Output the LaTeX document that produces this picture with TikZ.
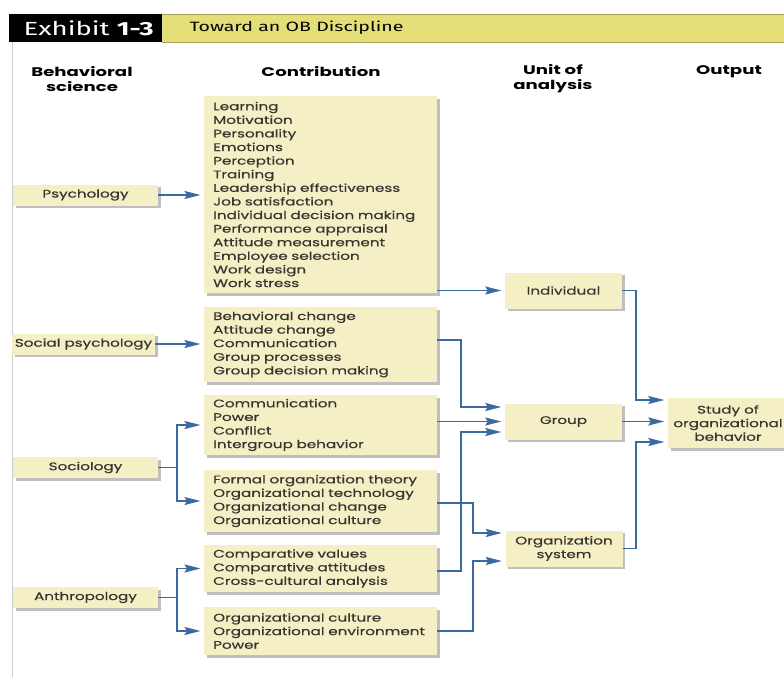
\documentclass[tikz,border=0pt]{standalone}
\usepackage{fontspec}
\usetikzlibrary{arrows.meta,shadows,calc}
\newfontfamily\bodyfont[FakeStretch=1.38,FakeBold=0.5]{Poppins}
\newfontfamily\headfont[FakeStretch=1.45]{Poppins}
\newfontfamily\exhfont[FakeStretch=1.45]{Fira Sans}
\definecolor{boxfill}{HTML}{F5EFC6}
\definecolor{hdryellow}{HTML}{E4DE78}
\definecolor{hdrline}{HTML}{A8A25A}
\definecolor{lineblue}{HTML}{3A6AA0}
\definecolor{txtgray}{HTML}{36342F}
\tikzset{
  boxshadow/.style={drop shadow={shadow xshift=2.5pt,shadow yshift=-2.5pt,fill=black,opacity=0.25}},
  lbox/.style={rectangle,fill=boxfill,boxshadow,minimum width=145pt,minimum height=21pt,
    inner sep=0pt,text=txtgray,font=\bodyfont\fontsize{11}{12}\selectfont},
  cbox/.style={rectangle,fill=boxfill,boxshadow,anchor=west,text width=215pt,inner xsep=9pt,
    inner ysep=0pt,align=left,text=txtgray,font=\bodyfont\fontsize{11}{13.6}\selectfont},
  ubox/.style={rectangle,fill=boxfill,boxshadow,minimum width=117pt,minimum height=36pt,
    inner sep=0pt,align=center,text=txtgray,font=\bodyfont\fontsize{11}{13.6}\selectfont},
  colhead/.style={align=center,text=black,font=\headfont\bfseries\fontsize{12.5}{15}\selectfont},
  ln/.style={draw=lineblue,line width=1.7pt},
  arr/.style={ln,-{Stealth[length=16pt,width=8pt,inset=2.5pt]},shorten >=3.5pt},
}
\begin{document}
\begin{tikzpicture}[x=1pt,y=-1pt]
\useasboundingbox (0,0) rectangle (784,677);
\fill[white] (0,0) rectangle (784,677);

% title bar
\fill[black] (9,14) rectangle (162,42);
\fill[hdryellow] (162,14) rectangle (784,42);
\draw[hdrline,line width=0.8pt] (162,14) -- (784,14) (162,42) -- (784,42);
\node[anchor=west,text=white,font=\exhfont\fontsize{19}{20}\selectfont] (exh) at (20,28) {Exhibit \textbf{1-3}};
\node[anchor=west,text=black,font=\exhfont\fontsize{13.5}{14}\selectfont] (ttl) at (186,28) {Toward an OB Discipline};
\draw[black!20,line width=1pt] (12,42) -- (12,677);

% column headings
\node[colhead] (h1) at (82,79) {Behavioral\\science};
\node[colhead] (h2) at (321,72) {Contribution};
\node[colhead] (h3) at (553,79) {Unit of\\analysis};
\node[colhead] (h4) at (729,72) {Output};

% behavioral sciences
\node[lbox] (psy) at (85.5,195) {Psychology};
\node[lbox,minimum width=143pt] (socpsy) at (83.5,344) {Social psychology};
\node[lbox] (soc) at (85.5,467.5) {Sociology};
\node[lbox] (anth) at (85.5,597.5) {Anthropology};

% contributions
\node[cbox,minimum height=197pt] (psyc) at (204,194.5) {Learning\\Motivation\\Personality\\Emotions\\Perception\\Training\\Leadership effectiveness\\Job satisfaction\\Individual decision making\\Performance appraisal\\Attitude measurement\\Employee selection\\Work design\\Work stress};
\node[cbox,minimum height=75pt] (spc) at (204,344.5) {Behavioral change\\Attitude change\\Communication\\Group processes\\Group decision making};
\node[cbox,minimum height=60pt] (scA) at (204,425) {Communication\\Power\\Conflict\\Intergroup behavior};
\node[cbox,minimum height=62pt] (scB) at (204,501) {Formal organization theory\\Organizational technology\\Organizational change\\Organizational culture};
\node[cbox,minimum height=47pt] (acA) at (204,568.5) {Comparative values\\Comparative attitudes\\Cross-cultural analysis};
\node[cbox,minimum height=48pt] (acB) at (204,631) {Organizational culture\\Organizational environment\\Power};

% units of analysis
\node[ubox] (ind) at (563.5,290.5) {Individual};
\node[ubox] (grp) at (563.5,421.5) {Group};
\node[ubox] (org) at (564,548.5) {Organization\\system};

% output
\node[ubox,minimum width=120pt,minimum height=50pt] (study) at (728,423) {Study of\\organizational\\behavior};

% junction columns
\coordinate (fork) at (177,0);
\coordinate (busA) at (461,0);
\coordinate (busB) at (473,0);
\coordinate (busC) at (636,0);

% sciences to contributions
\draw[arr] (psy.east) -- (psy.east -| psyc.west);
\draw[arr] (socpsy.east) -- (socpsy.east -| spc.west);
\draw[ln] (soc.east) -- (soc.east -| fork);
\draw[arr] (soc.east -| fork) |- (scA.west);
\draw[arr] (soc.east -| fork) |- (scB.west);
\draw[ln] (anth.east) -- (anth.east -| fork);
\draw[arr] (anth.east -| fork) |- (acA.west);
\draw[arr] (anth.east -| fork) |- (acB.west);

% contributions to units
\draw[arr] (psyc.east |- ind.west) -- (ind.west);
\draw[arr] ([yshift=4.5pt]spc.east) -| ([yshift=14.5pt]grp.west -| busA) -- ([yshift=14.5pt]grp.west);
\draw[arr] (scA.east |- grp.west) -- (grp.west);
\draw[arr] ([yshift=-2.5pt]acA.east) -| ([yshift=-10.5pt]grp.west -| busA) -- ([yshift=-10.5pt]grp.west);
\draw[arr] ([yshift=-2pt]scB.east) -| ([yshift=15.5pt]org.west -| busB) -- ([yshift=15.5pt]org.west);
\draw[arr] (acB.east) -| ([yshift=-12.5pt]org.west -| busB) -- ([yshift=-12.5pt]org.west);

% units to output
\draw[arr] (ind.east) -| ([yshift=23pt]study.west -| busC) -- ([yshift=23pt]study.west);
\draw[arr] (grp.east) -- (grp.east -| study.west);
\draw[arr] (org.east) -| ([yshift=-19pt]study.west -| busC) -- ([yshift=-19pt]study.west);
\end{tikzpicture}
\end{document}
